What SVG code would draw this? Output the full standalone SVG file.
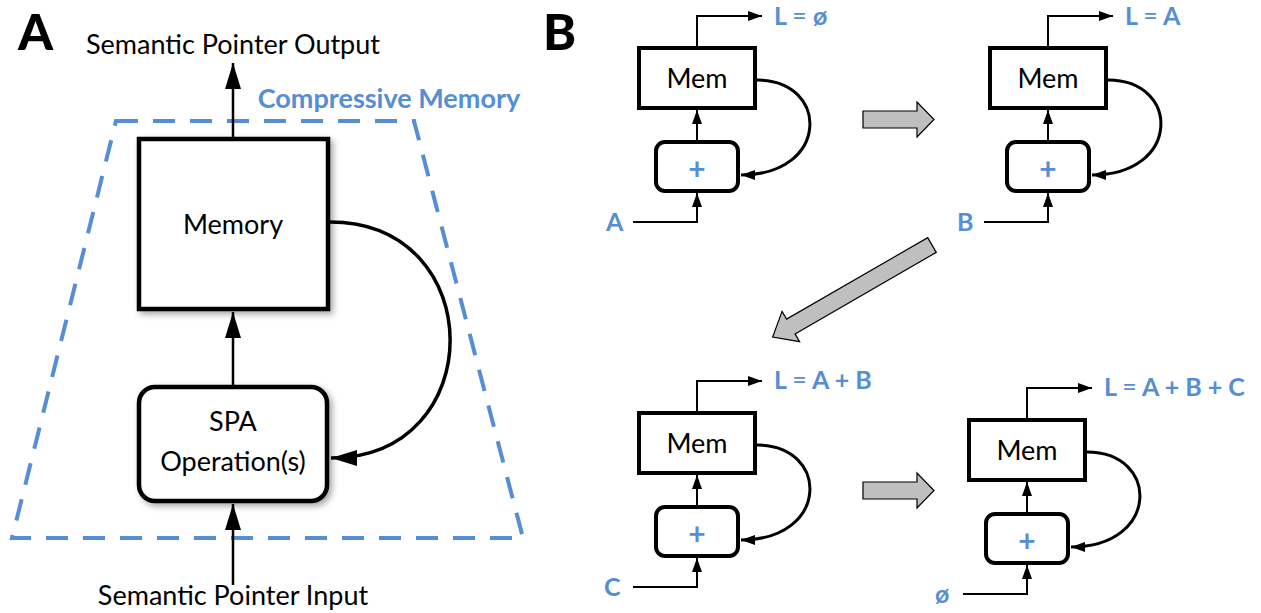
<svg xmlns="http://www.w3.org/2000/svg" width="1261" height="613" viewBox="0 0 1261 613">
  <style>
    text { font-family: Lato, "Liberation Sans", sans-serif; }
    .panel { font-size: 50px; font-weight: 900; fill: #000; }
    .lblA { font-size: 27px; fill: #000; text-anchor: middle; }
    .blue { fill: #558ED5; font-weight: bold; }
    .mem { font-size: 27px; fill: #000; text-anchor: middle; }
    .plus { font-size: 30px; text-anchor: middle; }
    .state { font-size: 25px; }
    .eq { font-weight: normal; }
    .boxA { fill: #fff; stroke: #000; stroke-width: 4.5; }
    .boxB { fill: #fff; stroke: #000; stroke-width: 4; }
    .lineA { fill: none; stroke: #000; stroke-width: 2.5; }
    .curveA { fill: none; stroke: #000; stroke-width: 3.5; }
    .lineB { fill: none; stroke: #000; stroke-width: 2; }
    .curveB { fill: none; stroke: #000; stroke-width: 3; }
    .dash { fill: none; stroke: #558ED5; stroke-width: 4; stroke-dasharray: 22 15; }
    .step { fill: #BFBFBF; stroke: #000; stroke-width: 1.2; stroke-linejoin: miter; }
  </style>
  <defs>
    <marker id="headA" markerUnits="userSpaceOnUse" markerWidth="28" markerHeight="18" refX="26" refY="8" orient="auto">
      <path d="M0,0 L26,8 L0,16 Z" fill="#000"/>
    </marker>
    <marker id="headB" markerUnits="userSpaceOnUse" markerWidth="16" markerHeight="12" refX="14" refY="5" orient="auto">
      <path d="M0,0 L14,5 L0,10 Z" fill="#000"/>
    </marker>
    <filter id="shadow" x="-20%" y="-20%" width="150%" height="150%">
      <feDropShadow dx="3" dy="3" stdDeviation="3" flood-color="#000" flood-opacity="0.35"/>
    </filter>
  </defs>

  <!-- panel letters -->
  <text class="panel" x="18" y="50">A</text>
  <text class="panel" x="543" y="50">B</text>

  <!-- ===== Panel A: compressive memory ===== -->
  <g id="a-boundary">
    <path class="dash" d="M116,121 L414,121 L523,538 L12,538 Z"/>
    <text class="lblA blue" x="389" y="108">Compressive Memory</text>
  </g>

  <g id="a-output-label">
    <text class="lblA" x="233" y="54">Semantic Pointer Output</text>
  </g>
  <g id="a-input-label">
    <text class="lblA" x="233" y="605">Semantic Pointer Input</text>
  </g>

  <g id="a-memory">
    <rect class="boxA" x="139" y="139" width="189" height="170" filter="url(#shadow)"/>
    <text class="lblA" x="233" y="234">Memory</text>
  </g>

  <g id="a-spa">
    <rect class="boxA" x="139" y="387" width="188" height="114" rx="16" filter="url(#shadow)"/>
    <text class="lblA" x="233" y="431">SPA</text>
    <text class="lblA" x="233" y="471">Operation(s)</text>
  </g>

  <!-- ===== Panel B: four successive states ===== -->
  <!-- state 1 -->
  <g id="b1-mem">
    <rect class="boxB" x="639" y="48" width="116" height="60"/>
    <text class="mem" x="697" y="88">Mem</text>
  </g>
  <g id="b1-add">
    <rect class="boxB" x="656" y="142" width="82" height="49" rx="9"/>
    <text class="plus blue" x="697" y="180">+</text>
  </g>
  <g id="b1-labels">
    <text class="state blue" x="774" y="25">L <tspan class="eq">=</tspan> ø</text>
    <text class="state blue" x="606" y="231">A</text>
  </g>

  <!-- state 2 -->
  <g id="b2-mem" transform="translate(351,0)">
    <rect class="boxB" x="639" y="48" width="116" height="60"/>
    <text class="mem" x="697" y="88">Mem</text>
  </g>
  <g id="b2-add" transform="translate(351,0)">
    <rect class="boxB" x="656" y="142" width="82" height="49" rx="9"/>
    <text class="plus blue" x="697" y="180">+</text>
  </g>
  <g id="b2-labels" transform="translate(351,0)">
    <text class="state blue" x="774" y="25">L <tspan class="eq">=</tspan> A</text>
    <text class="state blue" x="606" y="231">B</text>
  </g>

  <!-- state 3 -->
  <g id="b3-mem" transform="translate(0,365)">
    <rect class="boxB" x="639" y="48" width="116" height="60"/>
    <text class="mem" x="697" y="88">Mem</text>
  </g>
  <g id="b3-add" transform="translate(0,365)">
    <rect class="boxB" x="656" y="142" width="82" height="49" rx="9"/>
    <text class="plus blue" x="697" y="180">+</text>
  </g>
  <g id="b3-labels" transform="translate(0,365)">
    <text class="state blue" x="774" y="24">L <tspan class="eq">=</tspan> A + B</text>
    <text class="state blue" x="604" y="231">C</text>
  </g>

  <!-- state 4 -->
  <g id="b4-mem" transform="translate(330,372)">
    <rect class="boxB" x="639" y="48" width="116" height="60"/>
    <text class="mem" x="697" y="88">Mem</text>
  </g>
  <g id="b4-add" transform="translate(330,372)">
    <rect class="boxB" x="656" y="142" width="82" height="49" rx="9"/>
    <text class="plus blue" x="697" y="180">+</text>
  </g>
  <g id="b4-labels" transform="translate(330,372)">
    <text class="state blue" x="774" y="24">L <tspan class="eq">=</tspan> A + B + C</text>
    <text class="state blue" x="605" y="231">ø</text>
  </g>

  <!-- ===== connectors ===== -->
  <g id="connectors">
    <!-- panel A -->
    <line class="lineA" x1="233" y1="137" x2="233" y2="63" marker-end="url(#headA)"/>
    <line class="lineA" x1="233" y1="385" x2="233" y2="312" marker-end="url(#headA)"/>
    <line class="lineA" x1="233" y1="585" x2="233" y2="504" marker-end="url(#headA)"/>
    <path class="curveA" d="M330,222 C490,222 490,458 331,458" marker-end="url(#headA)"/>

    <!-- panel B, one set per state -->
    <g id="b1-links">
      <path class="lineB" d="M697,46 V16 H762" marker-end="url(#headB)"/>
      <line class="lineB" x1="697" y1="141" x2="697" y2="110" marker-end="url(#headB)"/>
      <path class="lineB" d="M633,222 H697 V193" marker-end="url(#headB)"/>
      <path class="curveB" d="M757,80 C830,80 830,175 741,175" marker-end="url(#headB)"/>
    </g>
    <g id="b2-links" transform="translate(351,0)">
      <path class="lineB" d="M697,46 V16 H762" marker-end="url(#headB)"/>
      <line class="lineB" x1="697" y1="141" x2="697" y2="110" marker-end="url(#headB)"/>
      <path class="lineB" d="M633,222 H697 V193" marker-end="url(#headB)"/>
      <path class="curveB" d="M757,80 C830,80 830,175 741,175" marker-end="url(#headB)"/>
    </g>
    <g id="b3-links" transform="translate(0,365)">
      <path class="lineB" d="M697,46 V16 H762" marker-end="url(#headB)"/>
      <line class="lineB" x1="697" y1="141" x2="697" y2="110" marker-end="url(#headB)"/>
      <path class="lineB" d="M633,222 H697 V193" marker-end="url(#headB)"/>
      <path class="curveB" d="M757,80 C830,80 830,175 741,175" marker-end="url(#headB)"/>
    </g>
    <g id="b4-links" transform="translate(330,372)">
      <path class="lineB" d="M697,46 V16 H762" marker-end="url(#headB)"/>
      <line class="lineB" x1="697" y1="141" x2="697" y2="110" marker-end="url(#headB)"/>
      <path class="lineB" d="M633,222 H697 V193" marker-end="url(#headB)"/>
      <path class="curveB" d="M757,80 C830,80 830,175 741,175" marker-end="url(#headB)"/>
    </g>

    <!-- block arrows between states -->
    <polygon class="step" points="863,111 917,111 917,102 934,119.5 917,137 917,128 863,128"/>
    <polygon class="step" points="863,111 917,111 917,102 934,119.5 917,137 917,128 863,128" transform="translate(0,371)"/>
    <polygon class="step" points="0,-8.5 163,-8.5 163,-17.5 184,0 163,17.5 163,8.5 0,8.5" transform="translate(932,245) rotate(150)"/>
  </g>
</svg>
